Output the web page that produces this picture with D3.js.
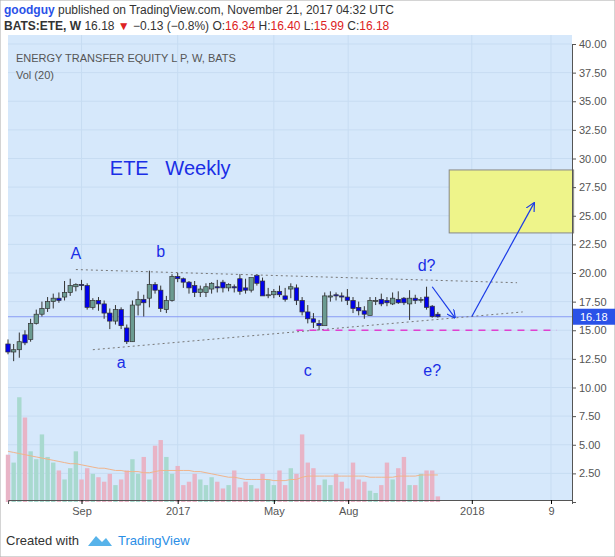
<!DOCTYPE html>
<html><head><meta charset="utf-8">
<script src="https://cdn.jsdelivr.net/npm/d3@7"></script>
<style>body{margin:0;background:#fff;font-family:"Liberation Sans",Arial,sans-serif} text{white-space:pre}</style>
</head><body><svg width="615" height="557"></svg>
<script>
let svg = d3.select("svg");

// weekly candles from 2016-06-06
let opens  = [13.8,13.1,13.3,14.6,14.2,15.6,16.4,16.9,17.5,17.8,17.9,18.3,18.8,19.0,18.9,17.0,17.6,17.3,16.5,15.8,16.8,15.2,14.0,17.2,17.7,17.8,19.0,18.5,16.8,17.6,19.7,19.5,19.2,18.9,18.3,18.3,18.6,18.8,19.2,18.7,18.8,19.5,18.7,18.5,19.8,19.3,18.1,18.1,18.4,18.0,18.6,18.7,17.6,16.6,16.0,15.6,15.4,17.9,18.1,18.0,17.9,17.6,17.0,16.7,16.3,17.6,17.7,17.6,17.3,17.7,17.8,17.3,17.8,17.7,17.9,17.1,16.4];
let closes = [13.1,13.3,14.0,13.9,15.6,16.4,16.9,17.5,17.8,17.6,18.3,18.9,19.0,18.9,17.0,17.6,17.3,16.5,15.8,16.8,15.4,14.0,17.2,17.7,17.4,19.0,18.5,16.9,17.6,19.7,19.5,19.2,18.7,18.3,18.6,18.8,19.1,18.7,18.7,19.0,18.7,18.4,18.5,19.6,19.1,18.0,18.1,18.4,18.1,17.7,18.8,17.6,16.6,16.0,15.7,15.4,18.0,18.0,18.0,17.9,17.6,16.9,16.7,16.4,17.6,17.6,17.3,17.4,17.8,17.4,17.4,17.8,17.6,17.7,17.0,16.2,16.18];
let highs  = [14.2,13.8,14.8,15.0,16.0,16.8,17.5,17.9,18.2,18.3,19.3,19.5,19.1,19.4,19.1,17.8,17.9,17.6,16.9,17.2,17.0,15.5,17.6,18.4,18.1,20.2,19.2,18.9,18.0,19.9,20.0,19.6,19.3,19.3,18.9,19.1,19.2,19.4,19.4,19.1,19.0,19.9,19.5,18.9,19.9,19.6,18.7,18.6,18.9,18.7,19.1,19.0,17.9,17.2,16.5,15.9,18.3,18.4,18.3,18.3,18.6,17.9,17.5,17.1,17.9,17.9,18.2,17.9,18.3,18.4,17.9,18.5,18.1,17.9,18.8,17.2,16.6];
let lows   = [12.9,12.3,12.6,13.7,14.0,15.5,16.2,16.6,16.9,17.4,17.6,18.0,18.4,18.5,16.8,16.8,16.7,16.0,15.1,15.5,15.1,13.8,14.0,16.3,16.2,17.0,18.2,16.6,16.5,17.5,19.2,18.7,18.2,17.9,17.9,17.9,18.2,18.3,18.3,18.4,18.3,18.1,18.2,18.3,18.9,18.3,17.8,17.8,17.9,17.5,17.8,17.2,16.3,15.6,15.2,15.0,15.5,17.5,17.6,17.5,17.2,16.5,16.3,16.0,16.3,17.2,17.1,17.1,17.2,17.3,17.2,15.9,17.3,17.4,16.8,16.1,16.1];
let volumes = [4.2,3.5,9.3,7.5,4.5,3.8,6.0,4.0,3.5,2.8,2.0,3.0,4.5,2.0,3.0,2.5,2.2,1.8,2.5,1.5,2.0,2.8,3.8,2.5,4.0,2.0,5.0,5.5,4.0,2.5,3.2,1.5,1.8,2.5,2.0,1.5,2.2,1.8,1.2,1.5,2.8,1.3,1.8,1.5,1.2,2.5,2.0,1.5,2.8,1.5,3.0,2.5,6.0,3.5,3.0,1.5,2.0,1.5,2.5,1.8,1.2,3.5,2.0,1.8,1.0,0.8,1.5,3.5,2.0,3.0,4.0,1.5,1.5,2.5,2.8,2.8,0.5];
let volMA = [4.5,4.4,4.3,4.2,4.1,4.0,3.9,3.8,3.7,3.6,3.5,3.4,3.4,3.3,3.2,3.1,3.0,3.0,2.9,2.8,2.8,2.7,2.7,2.7,2.6,2.6,2.7,2.8,2.8,2.8,2.8,2.8,2.8,2.7,2.7,2.6,2.5,2.4,2.3,2.2,2.2,2.1,2.0,2.0,2.0,2.0,2.0,1.9,1.9,1.9,2.0,2.0,2.2,2.3,2.3,2.3,2.3,2.3,2.3,2.3,2.3,2.3,2.3,2.3,2.2,2.2,2.2,2.2,2.2,2.3,2.3,2.3,2.3,2.4,2.4,2.4,2.4];
let priceTicks = [2.5,5,7.5,10,12.5,15,17.5,20,22.5,25,27.5,30,32.5,35,37.5,40];
let timeTicks = [["2016-09-05","Sep"],["2017-01-02","2017"],["2017-05-01","May"],["2017-08-01","Aug"],["2018-01-01","2018"],["2018-04-09","9"]];
let startDate = new Date(2016,5,6);
let lastPrice = 16.18;

let plot = {l: 8, r: 572, t: 35, b: 500};
let weekDate = i => d3.timeWeek.offset(startDate, i);
let x = d3.scaleTime().domain([startDate, new Date(2018,4,5)]).range([plot.l, plot.r]);
let y = d3.scaleLinear().domain([0, 40]).range([502, 44]);
let yv = d3.scaleLinear().domain([0, 9.5]).range([502, 395]);
let parse = d3.timeParse("%Y-%m-%d");

// frame
svg.append("rect").attr("x", plot.l).attr("y", plot.t).attr("width", plot.r - plot.l).attr("height", plot.b - plot.t).attr("fill", "#d6e8fb");
svg.append("rect").attr("x", 0).attr("y", 0).attr("width", 615).attr("height", 557).attr("fill", "none").attr("stroke", "#aaa");

// grid
svg.selectAll(".hg").data(priceTicks).join("line")
  .attr("x1", plot.l).attr("x2", plot.r).attr("y1", d => y(d)).attr("y2", d => y(d))
  .attr("stroke", "#c7dcf2").attr("stroke-width", 1);
svg.selectAll(".vg").data(timeTicks).join("line")
  .attr("x1", d => x(parse(d[0]))).attr("x2", d => x(parse(d[0]))).attr("y1", plot.t).attr("y2", plot.b)
  .attr("stroke", "#c7dcf2");

// volume
let bw = 4.4;
svg.selectAll(".vol").data(volumes).join("rect")
  .attr("x", (d, i) => x(weekDate(i)) - bw / 2).attr("width", bw)
  .attr("y", d => yv(d)).attr("height", d => yv(0) - yv(d))
  .attr("fill", (d, i) => closes[i] < opens[i] ? "#e8b4c6" : "#a8d9cf");
svg.append("path").datum(volMA)
  .attr("d", d3.line().x((d, i) => x(weekDate(i))).y(d => yv(d)))
  .attr("fill", "none").attr("stroke", "#f0b48c").attr("stroke-width", 1);

// last price line
svg.append("line").attr("x1", plot.l).attr("x2", plot.r).attr("y1", y(lastPrice)).attr("y2", y(lastPrice))
  .attr("stroke", "#8a9cf5").attr("stroke-width", 1);

// candles
let candles = svg.append("g").selectAll("g").data(closes).join("g");
candles.append("line")
  .attr("x1", (d, i) => x(weekDate(i))).attr("x2", (d, i) => x(weekDate(i)))
  .attr("y1", (d, i) => y(highs[i])).attr("y2", (d, i) => y(lows[i]))
  .attr("stroke", "#333");
candles.append("rect")
  .attr("x", (d, i) => x(weekDate(i)) - bw / 2).attr("width", bw)
  .attr("y", (d, i) => y(Math.max(d, opens[i])))
  .attr("height", (d, i) => Math.max(1, Math.abs(y(d) - y(opens[i]))))
  .attr("fill", (d, i) => d < opens[i] ? "#0000ee" : "#6b9b91")
  .attr("stroke", "#333").attr("stroke-width", 0.7);

// drawings
let wk = (i, p) => [x(weekDate(i)), y(p)];
svg.append("rect").attr("x", x(weekDate(78.4))).attr("y", y(29)).attr("width", x(weekDate(100.4)) - x(weekDate(78.4)))
  .attr("height", y(23.5) - y(29)).attr("fill", "#eef48a").attr("stroke", "#888");

function seg(a, b, stroke, dash, w) {
  svg.append("line").attr("x1", a[0]).attr("y1", a[1]).attr("x2", b[0]).attr("y2", b[1])
    .attr("stroke", stroke).attr("stroke-dasharray", dash).attr("stroke-width", w);
}
seg(wk(12.2, 20.3), wk(90, 19.15), "#777", "2,3", 1);
seg(wk(15.8, 13.3), wk(91.5, 16.6), "#777", "2,3", 1);
seg(wk(51.5, 15.0), wk(97, 15.0), "#e040d0", "7,6", 1.6);

svg.append("defs").append("marker").attr("id", "ar").attr("viewBox", "0 0 10 10")
  .attr("refX", 9).attr("refY", 5).attr("markerWidth", 9).attr("markerHeight", 9).attr("orient", "auto")
  .attr("markerUnits", "userSpaceOnUse")
  .append("path").attr("d", "M0,0L10,5L0,10").attr("fill", "none").attr("stroke", "#1a3ae6").attr("stroke-width", 1.3);
function arrow(a, b) {
  svg.append("line").attr("x1", a[0]).attr("y1", a[1]).attr("x2", b[0]).attr("y2", b[1])
    .attr("stroke", "#1a3ae6").attr("stroke-width", 1.2).attr("marker-end", "url(#ar)");
}
arrow(wk(75.8, 18.8), wk(79.8, 16.1));
arrow(wk(82.3, 16.2), wk(93.4, 26.1));

let labels = [["A", 12, 21.2, 16], ["b", 27.7, 21.4, 16], ["a", 20.5, 11.7, 16], ["c", 53.2, 11.0, 16], ["d?", 74.4, 20.2, 16], ["e?", 75.8, 11.0, 16], ["ETE   Weekly", 18.1, 28.6, 20]];
svg.selectAll(".lab").data(labels).join("text")
  .attr("x", d => x(weekDate(d[1]))).attr("y", d => y(d[2]))
  .attr("font-size", d => d[3]).attr("fill", "#1a2ee6").attr("text-anchor", (d, i) => i == 6 ? "start" : "middle")
  .text(d => d[0]);

// price axis
svg.append("g").attr("transform", `translate(${plot.r},0)`)
  .call(d3.axisRight(y).tickValues(priceTicks).tickFormat(d3.format(".2f")).tickSize(4))
  .call(g => g.select(".domain").attr("stroke", "#555"))
  .call(g => g.selectAll("text").attr("font-size", 11).attr("fill", "#555"))
  .call(g => g.selectAll("line").attr("stroke", "#555"));
svg.append("rect").attr("x", plot.r + 1).attr("y", y(lastPrice) - 8).attr("width", 42).attr("height", 16).attr("fill", "#2a52e8");
svg.append("text").attr("x", plot.r + 8).attr("y", y(lastPrice) + 4).attr("fill", "#fff").attr("font-size", 11).text(lastPrice.toFixed(2));

// time axis
svg.append("g").attr("transform", `translate(0,${plot.b})`)
  .call(d3.axisBottom(x).tickValues(timeTicks.map(d => parse(d[0]))).tickFormat((d, i) => timeTicks[i][1]).tickSize(4))
  .call(g => g.select(".domain").attr("stroke", "#555"))
  .call(g => g.selectAll("text").attr("font-size", 11).attr("fill", "#555"));

// header / footer
svg.append("text").attr("x", 4).attr("y", 14).attr("font-size", 12).attr("fill", "#333")
  .html('<tspan fill="#2a52e8" font-weight="bold">goodguy</tspan> published on TradingView.com, November 21, 2017 04:32 UTC');
svg.append("text").attr("x", 4).attr("y", 30).attr("font-size", 12).attr("fill", "#333")
  .html('<tspan font-weight="bold">BATS:ETE, W</tspan> 16.18 <tspan fill="#d22">▼</tspan> −0.13 (−0.8%) O:<tspan fill="#d22">16.34</tspan> H:<tspan fill="#d22">16.40</tspan> L:<tspan fill="#d22">15.99</tspan> C:<tspan fill="#d22">16.18</tspan>');
svg.append("text").attr("x", 16).attr("y", 62).attr("font-size", 11).attr("fill", "#555").text("ENERGY TRANSFER EQUITY L P, W, BATS");
svg.append("text").attr("x", 16).attr("y", 79).attr("font-size", 11).attr("fill", "#555").text("Vol (20)");
svg.append("text").attr("x", 6).attr("y", 545).attr("font-size", 13).attr("fill", "#333").text("Created with");
svg.append("text").attr("x", 118).attr("y", 545).attr("font-size", 13).attr("fill", "#2a8ee6").text("TradingView");
svg.append("path").attr("d", "M88,546 l8,-10 l6,6 l4,-4 l6,8 z").attr("fill", "#57b3ea");
</script></body></html>
